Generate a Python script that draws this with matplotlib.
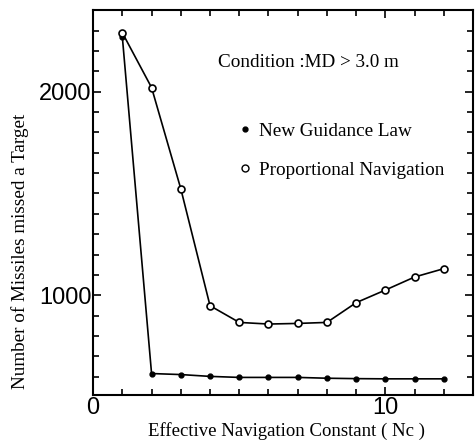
import matplotlib.pyplot as plt
from matplotlib.lines import Line2D
from matplotlib.ticker import MultipleLocator

nc = [1, 2, 3, 4, 5, 6, 7, 8, 9, 10, 11, 12]
new_law = [2269, 616, 611, 602, 597, 597, 597, 593, 591, 590, 590, 590]
prop_nav = [2289, 2020, 1523, 949, 867, 859, 862, 867, 964, 1026, 1090, 1131]

serif = ['Liberation Serif', 'DejaVu Serif']
sans = ['Liberation Sans', 'DejaVu Sans']

fig = plt.figure(figsize=(4.75, 4.41), dpi=100)
ax = fig.add_axes([0.196, 0.104, 0.8, 0.873])

ax.plot(nc, new_law, color='black', linewidth=1.2, marker='o', markersize=3.5,
        markerfacecolor='black', markeredgecolor='black')
ax.plot(nc, prop_nav, color='black', linewidth=1.2, marker='o', markersize=5,
        markerfacecolor='white', markeredgecolor='black', markeredgewidth=1.2)

ax.set_xlim(0, 13)
ax.set_ylim(510, 2400)
ax.xaxis.set_major_locator(MultipleLocator(10))
ax.xaxis.set_minor_locator(MultipleLocator(1))
ax.yaxis.set_major_locator(MultipleLocator(1000))
ax.yaxis.set_minor_locator(MultipleLocator(100))
ax.tick_params(which='both', direction='in', top=True, right=True, width=1.2)
ax.tick_params(which='major', length=6)
ax.tick_params(which='minor', length=4)
for lab in ax.get_xticklabels() + ax.get_yticklabels():
    lab.set_fontfamily(sans)
    lab.set_fontsize(17)
ax.tick_params(axis='x', pad=1)
ax.tick_params(axis='y', pad=1)
for s in ax.spines.values():
    s.set_linewidth(1.5)

ax.set_xlabel('Effective Navigation Constant ( Nc )', family=serif, fontsize=13.5)
ax.xaxis.set_label_coords(0.51, -0.07)
ax.set_ylabel('Number of Missiles missed a Target', family=serif, fontsize=13.8)
ax.yaxis.set_label_coords(-0.168, 0.374)

ax.text(0.329, 0.865, 'Condition :MD > 3.0 m', transform=ax.transAxes,
        family=serif, fontsize=13.8, va='center')

handles = [
    Line2D([], [], linestyle='none', marker='o', markersize=3.5, color='black'),
    Line2D([], [], linestyle='none', marker='o', markersize=5,
           markerfacecolor='white', markeredgecolor='black'),
]
ax.legend(handles, ['New Guidance Law', 'Proportional Navigation'],
          loc='upper left', bbox_to_anchor=(0.379, 0.709), frameon=False,
          prop={'family': serif, 'size': 13.8}, handlelength=0.8,
          handletextpad=0.33, labelspacing=1.15, borderaxespad=0, borderpad=0)

fig.savefig('out.png', dpi=100)
